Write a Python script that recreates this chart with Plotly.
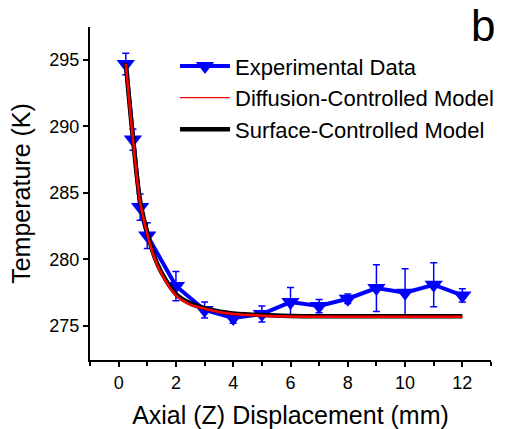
import plotly.graph_objects as go

# Experimental data
exp_x = [0.25, 0.5, 0.75, 1.0, 2.0, 3.0, 4.0, 5.0, 6.0, 7.0, 8.0, 9.0, 10.0, 11.0, 12.0]
exp_T = [294.67, 289.0, 283.93, 281.79, 278.0, 276.2, 275.6, 275.9, 276.8, 276.5, 277.05, 277.85, 277.5, 278.1, 277.3]
exp_err = [0.8, 0.8, 0.98, 0.96, 1.1, 0.6, 0.4, 0.6, 1.1, 0.5, 0.35, 1.75, 1.8, 1.65, 0.5]

# Model curves
model_x = [0.25, 0.5, 0.75, 1.0, 1.25, 1.5, 2.0, 2.5, 3.0, 3.5, 4.0, 5.0, 6.0, 8.0, 10.0, 12.0]
diff_T = [294.7, 289.0, 284.3, 281.9, 280.1, 278.9, 277.3, 276.6, 276.3, 276.05, 275.9, 275.78, 275.72, 275.7, 275.7, 275.7]
surf_T = [294.75, 289.1, 284.4, 282.0, 280.2, 279.0, 277.4, 276.7, 276.35, 276.1, 275.95, 275.82, 275.76, 275.74, 275.74, 275.74]

x_ticks = [0, 2, 4, 6, 8, 10, 12]
y_ticks = [275, 280, 285, 290, 295]

FONT = "Liberation Sans, Arial, sans-serif"
BLUE = "#0000ff"

fig = go.Figure()

fig.add_trace(go.Scatter(
    x=exp_x, y=exp_T, mode="lines+markers", name="Experimental Data",
    line=dict(color=BLUE, width=4),
    marker=dict(symbol="triangle-down", size=16, color=BLUE),
    error_y=dict(type="data", array=exp_err, visible=True, color=BLUE, thickness=1.5, width=3.5),
    showlegend=True,
))
fig.add_trace(go.Scatter(
    x=model_x, y=surf_T, mode="lines", name="Surface-Controlled Model",
    line=dict(color="#000000", width=4.5, shape="spline"), showlegend=False,
))
fig.add_trace(go.Scatter(
    x=model_x, y=diff_T, mode="lines", name="Diffusion-Controlled Model",
    line=dict(color="#ff0000", width=2.5, shape="spline"), showlegend=False,
))
# legend entries
fig.add_trace(go.Scatter(
    x=[None], y=[None], mode="lines", name="Diffusion-Controlled Model",
    line=dict(color="#ff0000", width=1.2),
))
fig.add_trace(go.Scatter(
    x=[None], y=[None], mode="lines", name="Surface-Controlled Model",
    line=dict(color="#000000", width=4.5),
))

fig.add_annotation(text="b", xref="paper", yref="paper", x=0.98, y=1.005,
                   xanchor="center", yanchor="middle", showarrow=False,
                   font=dict(family=FONT, size=44, color="black"))

fig.update_layout(
    width=511, height=429,
    margin=dict(l=90, r=14, t=27, b=69),
    paper_bgcolor="white", plot_bgcolor="white",
    font=dict(family=FONT, color="black"),
    legend=dict(x=0.212, y=0.945, xanchor="left", yanchor="top",
                bgcolor="rgba(0,0,0,0)", font=dict(size=22, family=FONT),
                itemwidth=50, tracegroupgap=0),
    xaxis=dict(range=[-1, 13], tickvals=x_ticks, ticks="outside", ticklen=5, tickwidth=2,
               tickcolor="black", showline=True, linecolor="black", linewidth=2,
               showgrid=False, zeroline=False, tickfont=dict(size=18), automargin=False,
               minor=dict(dtick=1, tick0=-1, ticks="outside", ticklen=4, tickwidth=2, tickcolor="black"),
               title=dict(text="Axial (Z) Displacement (mm)", font=dict(size=25), standoff=18)),
    yaxis=dict(range=[272.45, 297.45], tickvals=y_ticks, ticks="outside", ticklen=5, tickwidth=2,
               tickcolor="black", showline=True, linecolor="black", linewidth=2,
               showgrid=False, zeroline=False, tickfont=dict(size=18), automargin=False,
               title=dict(text="Temperature (K)", font=dict(size=25), standoff=12)),
)

fig.write_html("out.html")
